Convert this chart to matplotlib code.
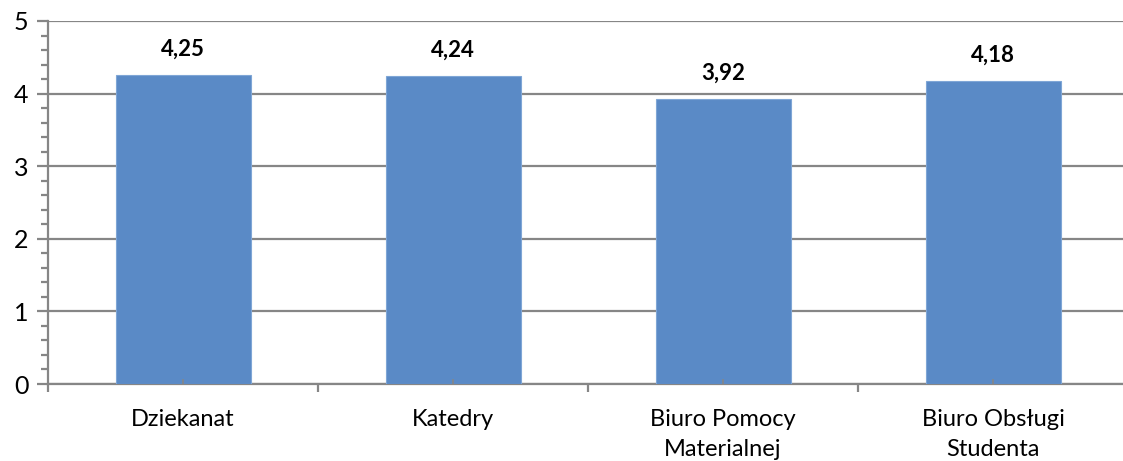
import matplotlib
matplotlib.use("Agg")
import matplotlib.pyplot as plt
from matplotlib.ticker import MultipleLocator, FixedLocator

categories = ["Dziekanat", "Katedry", "Biuro Pomocy\nMaterialnej", "Biuro Obsługi\nStudenta"]
values = [4.25, 4.24, 3.92, 4.18]
labels = ["4,25", "4,24", "3,92", "4,18"]

plt.rcParams['font.family'] = ['Lato', 'DejaVu Sans']
W, H = 1123, 461
fig = plt.figure(figsize=(W/100, H/100), dpi=100)
ax = fig.add_axes([48/W, 77/H, 1080/W, 363/H])

grid_c = "#868686"
x = list(range(len(categories)))
ax.bar(x, values, width=0.5, color="#5A8AC6", edgecolor="#7FA6D6", linewidth=0.8, zorder=3)
for xi, v, lab in zip(x, values, labels):
    ax.annotate(lab, (xi, v), xytext=(0, 11), textcoords="offset points",
                ha="center", va="bottom", fontsize=16, fontweight="bold", color="black")

ax.set_xlim(-0.5, 3.5)
ax.set_ylim(0, 5)
ax.yaxis.set_major_locator(MultipleLocator(1))
ax.yaxis.set_minor_locator(MultipleLocator(0.2))
ax.grid(axis="y", which="major", color=grid_c, linewidth=1.6, zorder=0)
for s in ["top", "right"]:
    ax.spines[s].set_visible(False)
for s in ["left", "bottom"]:
    ax.spines[s].set_color(grid_c)
    ax.spines[s].set_linewidth(1.6)

ax.set_xticks(x)
ax.set_xticklabels(categories, fontsize=17, linespacing=1.5)
ax.tick_params(axis="x", which="major", length=0, pad=18)
ax.xaxis.set_minor_locator(FixedLocator([-0.5, 0.5, 1.5, 2.5, 3.5]))
ax.tick_params(axis="x", which="minor", length=6, width=1.6, color=grid_c, direction="out")
ax.tick_params(axis="y", which="major", length=8, width=1.6, color=grid_c, labelsize=18, pad=6)
ax.tick_params(axis="y", which="minor", length=5, width=1.6, color=grid_c)
# small upward ticks at bar centres
for xi in x:
    ax.plot([xi, xi], [0, 0.06], color=grid_c, linewidth=1.2, zorder=4, clip_on=False)

fig.savefig("out.png", dpi=100)
